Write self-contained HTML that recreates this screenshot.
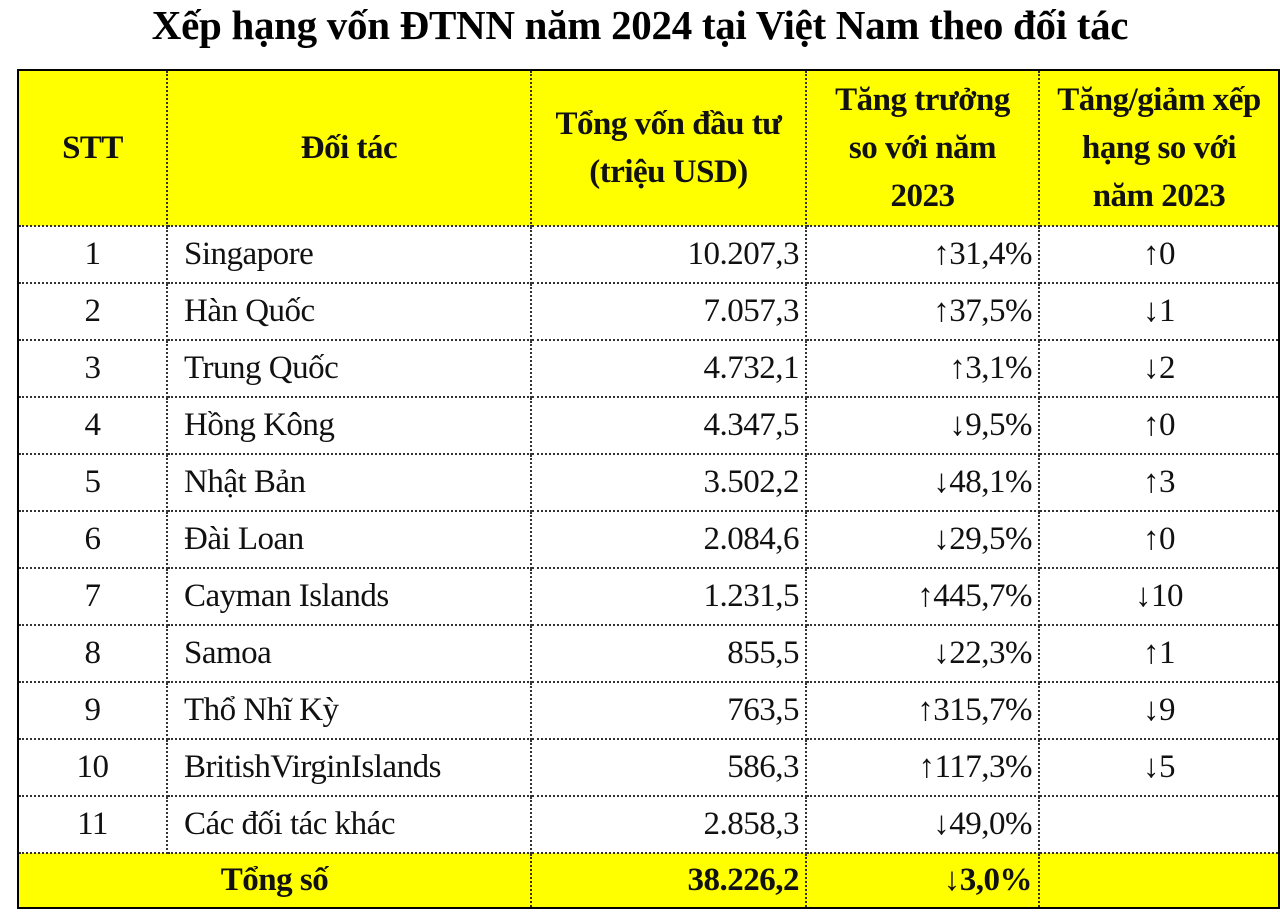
<!DOCTYPE html>
<html><head><meta charset="utf-8"><style>
body{margin:0;width:1280px;height:916px;background:#fff;font-family:"Liberation Serif",serif;position:relative;overflow:hidden}
.t{position:absolute;left:0;width:1280px;top:0px;text-align:center;font-weight:bold;font-size:41px;line-height:50px;letter-spacing:-0.3px}
table{position:absolute;left:17px;top:69px;border-collapse:collapse;border:2px solid #000}
td{border:2px dotted #333;font-size:33px;padding:0 6px;height:55px;white-space:nowrap;color:#111;letter-spacing:-0.5px}
thead td{background:#ffff00;font-weight:bold;text-align:center;height:154px;line-height:48px;font-size:33px;padding:0 2px}
.c{text-align:center}.r{text-align:right}.l{text-align:left;padding-left:16px}
tr.tot td{background:#ffff00;font-weight:bold;height:53px}
</style></head><body>
<div class="t">Xếp hạng vốn ĐTNN năm 2024 tại Việt Nam theo đối tác</div>
<table>
<colgroup><col style="width:149px"><col style="width:364px"><col style="width:275px"><col style="width:233px"><col style="width:240px"></colgroup>
<thead><tr><td>STT</td><td>Đối tác</td><td>Tổng vốn đầu tư<br>(triệu USD)</td><td>Tăng trưởng<br>so với năm<br>2023</td><td>Tăng/giảm xếp<br>hạng so với<br>năm 2023</td></tr></thead>
<tbody>
<tr><td class="c">1</td><td class="l">Singapore</td><td class="r">10.207,3</td><td class="r">↑31,4%</td><td class="c">↑0</td></tr>
<tr><td class="c">2</td><td class="l">Hàn Quốc</td><td class="r">7.057,3</td><td class="r">↑37,5%</td><td class="c">↓1</td></tr>
<tr><td class="c">3</td><td class="l">Trung Quốc</td><td class="r">4.732,1</td><td class="r">↑3,1%</td><td class="c">↓2</td></tr>
<tr><td class="c">4</td><td class="l">Hồng Kông</td><td class="r">4.347,5</td><td class="r">↓9,5%</td><td class="c">↑0</td></tr>
<tr><td class="c">5</td><td class="l">Nhật Bản</td><td class="r">3.502,2</td><td class="r">↓48,1%</td><td class="c">↑3</td></tr>
<tr><td class="c">6</td><td class="l">Đài Loan</td><td class="r">2.084,6</td><td class="r">↓29,5%</td><td class="c">↑0</td></tr>
<tr><td class="c">7</td><td class="l">Cayman Islands</td><td class="r">1.231,5</td><td class="r">↑445,7%</td><td class="c">↓10</td></tr>
<tr><td class="c">8</td><td class="l">Samoa</td><td class="r">855,5</td><td class="r">↓22,3%</td><td class="c">↑1</td></tr>
<tr><td class="c">9</td><td class="l">Thổ Nhĩ Kỳ</td><td class="r">763,5</td><td class="r">↑315,7%</td><td class="c">↓9</td></tr>
<tr><td class="c">10</td><td class="l">BritishVirginIslands</td><td class="r">586,3</td><td class="r">↑117,3%</td><td class="c">↓5</td></tr>
<tr><td class="c">11</td><td class="l">Các đối tác khác</td><td class="r">2.858,3</td><td class="r">↓49,0%</td><td class="c"></td></tr>
<tr class="tot"><td colspan="2" class="c">Tổng số</td><td class="r">38.226,2</td><td class="r">↓3,0%</td><td></td></tr>
</tbody></table>
</body></html>
